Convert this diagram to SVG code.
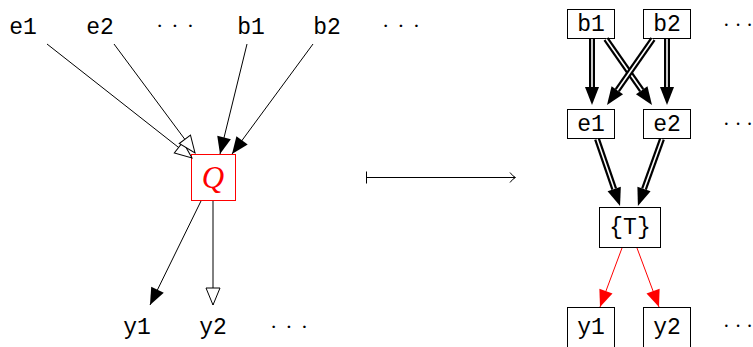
<svg xmlns="http://www.w3.org/2000/svg" width="753" height="347" viewBox="0 0 753 347">
<style>
.t{font-family:"Liberation Mono","DejaVu Sans Mono",monospace;font-size:23px;fill:#000;text-anchor:middle}
.d{font-family:"Liberation Serif","DejaVu Serif",serif;font-size:22px;fill:#000;white-space:pre}
.dl{word-spacing:2.5px}
.dr{font-size:20px}
.box{fill:#fff;stroke:#000;stroke-width:1}
.thin{stroke:#000;stroke-width:1;fill:none}
.dbl{stroke:#000;stroke-width:6;fill:none}
.gap{stroke:#fff;stroke-width:1.6;fill:none}
.red{stroke:#f00;stroke-width:1;fill:none}
</style>
<defs>
<marker id="open" markerUnits="userSpaceOnUse" viewBox="-1 -9 20 18" refX="17" refY="0" markerWidth="20" markerHeight="18" orient="auto">
<path d="M0,-7 L17,0 L0,7 Z" fill="#fff" stroke="#000" stroke-width="1"/>
</marker>
<marker id="fill" markerUnits="userSpaceOnUse" viewBox="-1 -9 20 18" refX="17" refY="0" markerWidth="20" markerHeight="18" orient="auto">
<path d="M0,-7 L17,0 L0,7 Z" fill="#000"/>
</marker>
<marker id="redh" markerUnits="userSpaceOnUse" viewBox="-1 -9 20 18" refX="17" refY="0" markerWidth="20" markerHeight="18" orient="auto">
<path d="M0,-7 L17,0 L0,7 Z" fill="#f00"/>
</marker>
<marker id="big" markerUnits="userSpaceOnUse" viewBox="-1 -9 20 18" refX="0" refY="0" markerWidth="20" markerHeight="18" orient="auto">
<path d="M0,-7 L18,0 L0,7 Z" fill="#000"/>
</marker>
</defs>

<!-- left nodes -->
<g id="L-e1"><text class="t" x="23" y="34">e1</text></g>
<g id="L-e2"><text class="t" x="100" y="34">e2</text></g>
<g id="L-dots1"><text class="d dl" x="156" y="33">· · ·</text></g>
<g id="L-b1"><text class="t" x="251" y="34">b1</text></g>
<g id="L-b2"><text class="t" x="327" y="34">b2</text></g>
<g id="L-dots2"><text class="d dl" x="382" y="33">· · ·</text></g>
<g id="L-Q">
<rect x="191.5" y="154.5" width="44" height="46" fill="#fff" stroke="#f00" stroke-width="1"/>
<text x="213" y="188" text-anchor="middle" font-family="Liberation Serif, serif" font-style="italic" font-size="31" fill="#f00">Q</text>
</g>
<g id="L-y1"><text class="t" x="137" y="334">y1</text></g>
<g id="L-y2"><text class="t" x="213" y="334">y2</text></g>
<g id="L-dots3"><text class="d dl" x="270" y="334">· · ·</text></g>

<!-- right nodes -->
<g id="R-b1"><rect class="box" x="567.5" y="9.5" width="47" height="29"/><text class="t" x="591" y="31">b1</text></g>
<g id="R-b2"><rect class="box" x="643.5" y="9.5" width="47" height="29"/><text class="t" x="667" y="31">b2</text></g>
<g id="R-dots1"><text class="d dr" x="723" y="32">· · ·</text></g>
<g id="R-e1"><rect class="box" x="567.5" y="109.5" width="47" height="29"/><text class="t" x="591" y="131">e1</text></g>
<g id="R-e2"><rect class="box" x="643.5" y="109.5" width="47" height="29"/><text class="t" x="667" y="131">e2</text></g>
<g id="R-dots2"><text class="d dr" x="723" y="131">· · ·</text></g>
<g id="R-T"><rect class="box" x="599.5" y="207.5" width="61" height="40"/><text class="t" x="630" y="234">{T}</text></g>
<g id="R-y1"><rect class="box" x="567.5" y="307.5" width="47" height="45"/><text class="t" x="591" y="334">y1</text></g>
<g id="R-y2"><rect class="box" x="643.5" y="307.5" width="47" height="45"/><text class="t" x="667" y="334">y2</text></g>
<g id="R-dots3"><text class="d dr" x="723" y="333">· · ·</text></g>

<!-- connectors -->
<g id="connectors">
<line class="thin" x1="47" y1="44" x2="192" y2="158" marker-end="url(#open)"/>
<line class="thin" x1="114" y1="44" x2="195" y2="153" marker-end="url(#open)"/>
<line class="thin" x1="247" y1="44" x2="220" y2="154" marker-end="url(#fill)"/>
<line class="thin" x1="313" y1="44" x2="232" y2="154" marker-end="url(#fill)"/>
<line class="thin" x1="201" y1="201" x2="150" y2="305" marker-end="url(#fill)"/>
<line class="thin" x1="213" y1="201" x2="213" y2="305" marker-end="url(#open)"/>

<g id="mapsto">
<line class="thin" x1="366" y1="177.5" x2="515" y2="177.5"/>
<line class="thin" x1="366.5" y1="171.5" x2="366.5" y2="183.5"/>
<path class="thin" d="M510,172.5 Q513,176.5 515.5,177.5 Q513,178.5 510,182.5"/>
</g>

<line class="dbl" x1="592" y1="39" x2="592" y2="87" marker-end="url(#big)"/>
<line class="gap" x1="592" y1="39" x2="592" y2="87"/>
<line class="dbl" x1="667" y1="39" x2="667" y2="87" marker-end="url(#big)"/>
<line class="gap" x1="667" y1="39" x2="667" y2="87"/>
<line class="dbl" x1="606" y1="39" x2="641.7" y2="90.2" marker-end="url(#big)"/>
<line class="gap" x1="606" y1="39" x2="641.7" y2="90.2"/>
<line class="dbl" x1="653" y1="39" x2="617.3" y2="90.2" marker-end="url(#big)"/>
<line class="gap" x1="653" y1="39" x2="617.3" y2="90.2"/>
<line class="dbl" x1="597" y1="139" x2="614.2" y2="189" marker-end="url(#big)"/>
<line class="gap" x1="597" y1="139" x2="614.2" y2="189"/>
<line class="dbl" x1="662" y1="139" x2="644" y2="189" marker-end="url(#big)"/>
<line class="gap" x1="662" y1="139" x2="644" y2="189"/>

<line class="red" x1="622" y1="248" x2="600" y2="307" marker-end="url(#redh)"/>
<line class="red" x1="637" y1="248" x2="659" y2="307" marker-end="url(#redh)"/>
</g>
</svg>
